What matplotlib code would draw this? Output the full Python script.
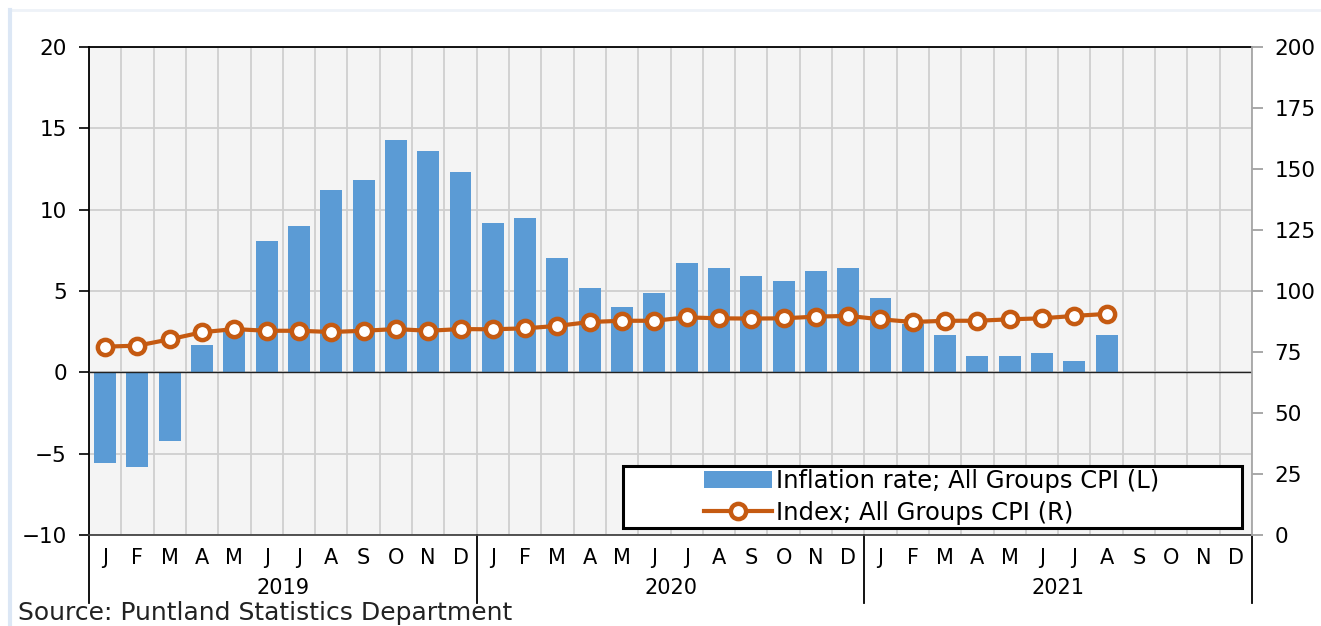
import numpy as np
from matplotlib import pyplot as plt
from matplotlib.patches import Rectangle
from matplotlib.lines import Line2D
from matplotlib.transforms import blended_transform_factory

plt.rcParams['font.family'] = ['DejaVu Sans']

# data
months = ['J', 'F', 'M', 'A', 'M', 'J', 'J', 'A', 'S', 'O', 'N', 'D'] * 3
years = ['2019', '2020', '2021']
inflation = [-5.6, -5.8, -4.2, 1.7, 2.6, 8.1, 9.0, 11.2, 11.8, 14.3, 13.6, 12.3,
             9.2, 9.5, 7.0, 5.2, 4.0, 4.9, 6.7, 6.4, 5.9, 5.6, 6.2, 6.4,
             4.6, 3.0, 2.3, 1.0, 1.0, 1.2, 0.7, 2.3]
cpi_index = [77.2, 77.6, 80.2, 83.1, 84.4, 83.7, 83.7, 83.2, 83.7, 84.4, 83.7, 84.4,
             84.3, 84.7, 85.7, 87.3, 87.8, 87.8, 89.2, 88.8, 88.7, 88.8, 89.5, 89.8,
             88.4, 87.3, 87.8, 87.8, 88.4, 88.8, 89.8, 90.6]

bar_color = '#5B9BD5'
line_color = '#C55A11'
grid_color = '#CFCFCF'

W, H = 1321, 626
fig = plt.figure(figsize=(W / 100, H / 100), dpi=100)

# faint outer frame
fig.add_artist(Line2D([10 / W, 1], [1 - 10 / H, 1 - 10 / H], color='#EEF2F8', lw=2))
fig.add_artist(Line2D([10 / W, 10 / W], [0, 1 - 10 / H], color='#DCE7F5', lw=3))

ax = fig.add_axes([89 / W, (H - 535) / H, (1252 - 89) / W, (535 - 47) / H])
ax.set_facecolor('#F4F4F4')

x = np.arange(len(inflation))
bars = ax.bar(x, inflation, width=0.68, color=bar_color, zorder=2)
ax.axhline(0, color='#222222', lw=1.0, zorder=3)

ax.set_xlim(-0.5, len(months) - 0.5)
ax.set_ylim(-10, 20)
ax.set_yticks(np.arange(-10, 21, 5))
ax.set_yticklabels(['\u221210', '\u22125', '0', '5', '10', '15', '20'])
ax.set_xticks(np.arange(len(months)))
ax.set_xticklabels(months)
ax.set_xticks(np.arange(-0.5, len(months), 1), minor=True)
ax.tick_params(axis='x', which='both', length=0, pad=9, labelsize=15)
ax.tick_params(axis='y', length=7, width=1.2, pad=9, labelsize=15.5, direction='out')
ax.grid(axis='y', which='major', color=grid_color, lw=1.3)
ax.grid(axis='x', which='minor', color=grid_color, lw=1.3)
ax.set_axisbelow(True)

ax.spines['left'].set_color('black')
ax.spines['left'].set_linewidth(1.3)
ax.spines['top'].set_color('black')
ax.spines['top'].set_linewidth(1.3)
ax.spines['bottom'].set_color('#444444')
ax.spines['bottom'].set_linewidth(1.3)
ax.spines['right'].set_visible(False)

# year labels and separators under the month letters
trans = blended_transform_factory(ax.transData, ax.transAxes)
for i, yr in enumerate(years):
    ax.text(i * 12 + 5.5, -0.109, yr, transform=trans, ha='center', va='center', fontsize=15)
for xb in [-0.5, 11.5, 23.5, 35.5]:
    ax.add_line(Line2D([xb, xb], [0, -0.139], transform=trans, color='black', lw=1.3, clip_on=False))

ax2 = ax.twinx()
line, = ax2.plot(np.arange(len(cpi_index)), cpi_index, color=line_color, lw=3, marker='o',
                 ms=11, mfc='white', mec=line_color, mew=3.2, zorder=3)
ax2.set_ylim(0, 200)
ax2.set_yticks(np.arange(0, 201, 25))
ax2.tick_params(axis='y', length=8, width=1.2, color='#999999', pad=8, labelsize=15.5)
for s in ['left', 'top', 'bottom']:
    ax2.spines[s].set_visible(False)
ax2.spines['right'].set_color('#A6A6A6')
ax2.spines['right'].set_linewidth(1.3)

ax2.add_patch(Rectangle((0.459, 0.014), 0.532, 0.127, transform=ax2.transAxes, facecolor='white',
                        edgecolor='black', lw=2.2, zorder=4))
leg = ax2.legend([bars, line], ['Inflation rate; All Groups CPI (L)', 'Index; All Groups CPI (R)'],
                 loc='center', bbox_to_anchor=(0.7244, 0.078), frameon=False, fontsize=17.5,
                 handlelength=2.8, handletextpad=0.15, labelspacing=0.3, borderpad=0)
leg.set_zorder(5)

fig.text(18 / W, (H - 613) / H, 'Source: Puntland Statistics Department', fontsize=18,
         va='center', ha='left', color='#222222')

fig.savefig('out.png', dpi=100)
